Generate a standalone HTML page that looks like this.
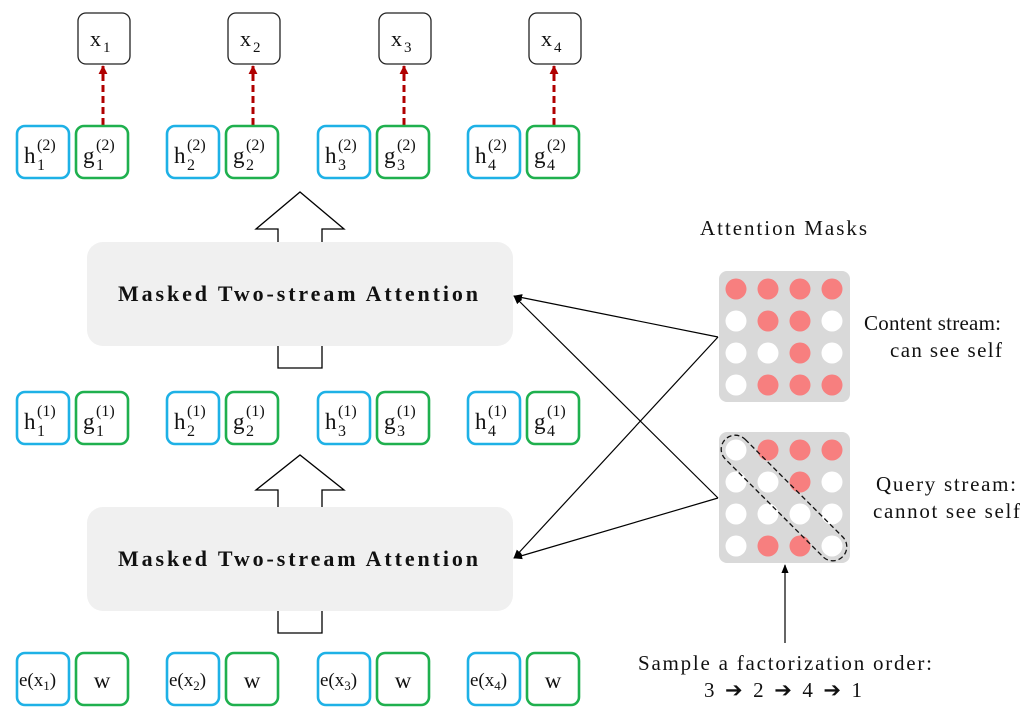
<!DOCTYPE html>
<html><head><meta charset="utf-8"><style>
html,body{margin:0;padding:0;background:#fff;}
svg{display:block;}
.ser{font-family:"Liberation Serif",serif;fill:#111;}
</style></head><body>
<svg width="1036" height="715" viewBox="0 0 1036 715" xmlns="http://www.w3.org/2000/svg">
<defs>
<marker id="ah" viewBox="0 0 10 10" refX="9" refY="5" markerWidth="9" markerHeight="9" orient="auto-start-reverse" markerUnits="userSpaceOnUse"><path d="M0,1 L10,5 L0,9 z" fill="#000"/></marker>
<marker id="rh" viewBox="0 0 10 10" refX="9" refY="5" markerWidth="9" markerHeight="10" orient="auto" markerUnits="userSpaceOnUse"><path d="M0,0 L10,5 L0,10 z" fill="#b00000"/></marker>
</defs>

<rect x="87" y="242" width="426" height="104" rx="16" fill="#f0f0f0"/>
<rect x="87" y="507" width="426" height="104" rx="16" fill="#f0f0f0"/>
<text x="118" y="301" class="ser" font-size="22" font-weight="bold" textLength="360" lengthAdjust="spacing">Masked Two-stream Attention</text>
<text x="118" y="566" class="ser" font-size="22" font-weight="bold" textLength="360" lengthAdjust="spacing">Masked Two-stream Attention</text>

<path d="M278,242 L278,229 L256,229 L300,192 L344,229 L322,229 L322,242" fill="none" stroke="#000" stroke-width="1.3"/>
<path d="M278,346 L278,368 L322,368 L322,346" fill="none" stroke="#000" stroke-width="1.3"/>
<path d="M278,507 L278,490 L256,490 L300,455 L344,490 L322,490 L322,507" fill="none" stroke="#000" stroke-width="1.3"/>
<path d="M278,611 L278,633 L322,633 L322,611" fill="none" stroke="#000" stroke-width="1.3"/>

<g stroke="#222" stroke-width="1.3" fill="#fff">
<rect x="78" y="13" width="52" height="51" rx="8"/>
<rect x="228" y="13" width="52" height="51" rx="8"/>
<rect x="379" y="13" width="52" height="51" rx="8"/>
<rect x="529" y="13" width="52" height="51" rx="8"/>
</g>
<g class="ser" font-size="22">
<text x="90" y="46">x</text><text x="103" y="52" font-size="15">1</text>
<text x="240" y="46">x</text><text x="253" y="52" font-size="15">2</text>
<text x="391" y="46">x</text><text x="404" y="52" font-size="15">3</text>
<text x="541" y="46">x</text><text x="554" y="52" font-size="15">4</text>
</g>
<g stroke="#b00000" stroke-width="3" stroke-dasharray="7,4" marker-end="url(#rh)">
<line x1="103" y1="125" x2="103" y2="66"/>
<line x1="253" y1="125" x2="253" y2="66"/>
<line x1="404" y1="125" x2="404" y2="66"/>
<line x1="554" y1="125" x2="554" y2="66"/>
</g>

<g fill="none" stroke-width="2.6">
<g stroke="#1eb1e6">
<rect x="17" y="126" width="52" height="52" rx="8"/><rect x="167" y="126" width="52" height="52" rx="8"/><rect x="318" y="126" width="52" height="52" rx="8"/><rect x="468" y="126" width="52" height="52" rx="8"/>
<rect x="17" y="392" width="52" height="52" rx="8"/><rect x="167" y="392" width="52" height="52" rx="8"/><rect x="318" y="392" width="52" height="52" rx="8"/><rect x="468" y="392" width="52" height="52" rx="8"/>
<rect x="17" y="653" width="52" height="52" rx="8"/><rect x="167" y="653" width="52" height="52" rx="8"/><rect x="318" y="653" width="52" height="52" rx="8"/><rect x="468" y="653" width="52" height="52" rx="8"/>
</g>
<g stroke="#1fb04e">
<rect x="76" y="126" width="52" height="52" rx="8"/><rect x="226" y="126" width="52" height="52" rx="8"/><rect x="377" y="126" width="52" height="52" rx="8"/><rect x="527" y="126" width="52" height="52" rx="8"/>
<rect x="76" y="392" width="52" height="52" rx="8"/><rect x="226" y="392" width="52" height="52" rx="8"/><rect x="377" y="392" width="52" height="52" rx="8"/><rect x="527" y="392" width="52" height="52" rx="8"/>
<rect x="76" y="653" width="52" height="52" rx="8"/><rect x="226" y="653" width="52" height="52" rx="8"/><rect x="377" y="653" width="52" height="52" rx="8"/><rect x="527" y="653" width="52" height="52" rx="8"/>
</g>
</g>

<g class="ser" font-size="23">
<text x="24" y="163">h</text><text x="37" y="170" font-size="16">1</text><text x="37" y="150" font-size="16">(2)</text>
<text x="83" y="163">g</text><text x="96" y="170" font-size="16">1</text><text x="96" y="150" font-size="16">(2)</text>
<text x="174" y="163">h</text><text x="187" y="170" font-size="16">2</text><text x="187" y="150" font-size="16">(2)</text>
<text x="233" y="163">g</text><text x="246" y="170" font-size="16">2</text><text x="246" y="150" font-size="16">(2)</text>
<text x="325" y="163">h</text><text x="338" y="170" font-size="16">3</text><text x="338" y="150" font-size="16">(2)</text>
<text x="384" y="163">g</text><text x="397" y="170" font-size="16">3</text><text x="397" y="150" font-size="16">(2)</text>
<text x="475" y="163">h</text><text x="488" y="170" font-size="16">4</text><text x="488" y="150" font-size="16">(2)</text>
<text x="534" y="163">g</text><text x="547" y="170" font-size="16">4</text><text x="547" y="150" font-size="16">(2)</text>
<text x="24" y="429">h</text><text x="37" y="436" font-size="16">1</text><text x="37" y="416" font-size="16">(1)</text>
<text x="83" y="429">g</text><text x="96" y="436" font-size="16">1</text><text x="96" y="416" font-size="16">(1)</text>
<text x="174" y="429">h</text><text x="187" y="436" font-size="16">2</text><text x="187" y="416" font-size="16">(1)</text>
<text x="233" y="429">g</text><text x="246" y="436" font-size="16">2</text><text x="246" y="416" font-size="16">(1)</text>
<text x="325" y="429">h</text><text x="338" y="436" font-size="16">3</text><text x="338" y="416" font-size="16">(1)</text>
<text x="384" y="429">g</text><text x="397" y="436" font-size="16">3</text><text x="397" y="416" font-size="16">(1)</text>
<text x="475" y="429">h</text><text x="488" y="436" font-size="16">4</text><text x="488" y="416" font-size="16">(1)</text>
<text x="534" y="429">g</text><text x="547" y="436" font-size="16">4</text><text x="547" y="416" font-size="16">(1)</text>
</g>
<g class="ser" font-size="19">
<text x="19" y="686">e(x<tspan font-size="13" dy="4">1</tspan><tspan dy="-4">)</tspan></text>
<text x="169" y="686">e(x<tspan font-size="13" dy="4">2</tspan><tspan dy="-4">)</tspan></text>
<text x="320" y="686">e(x<tspan font-size="13" dy="4">3</tspan><tspan dy="-4">)</tspan></text>
<text x="470" y="686">e(x<tspan font-size="13" dy="4">4</tspan><tspan dy="-4">)</tspan></text>
</g>
<g class="ser" font-size="23" text-anchor="middle">
<text x="102" y="688">w</text><text x="252" y="688">w</text><text x="403" y="688">w</text><text x="553" y="688">w</text>
</g>

<rect x="719" y="271" width="131" height="131" rx="8" fill="#d9d9d9"/>
<rect x="719" y="432" width="131" height="131" rx="8" fill="#d9d9d9"/>
<g>
<circle cx="736" cy="289" r="10.5" fill="#f77f7f"/><circle cx="768" cy="289" r="10.5" fill="#f77f7f"/><circle cx="800" cy="289" r="10.5" fill="#f77f7f"/><circle cx="832" cy="289" r="10.5" fill="#f77f7f"/>
<circle cx="736" cy="321" r="10.5" fill="#fff"/><circle cx="768" cy="321" r="10.5" fill="#f77f7f"/><circle cx="800" cy="321" r="10.5" fill="#f77f7f"/><circle cx="832" cy="321" r="10.5" fill="#fff"/>
<circle cx="736" cy="353" r="10.5" fill="#fff"/><circle cx="768" cy="353" r="10.5" fill="#fff"/><circle cx="800" cy="353" r="10.5" fill="#f77f7f"/><circle cx="832" cy="353" r="10.5" fill="#fff"/>
<circle cx="736" cy="385" r="10.5" fill="#fff"/><circle cx="768" cy="385" r="10.5" fill="#f77f7f"/><circle cx="800" cy="385" r="10.5" fill="#f77f7f"/><circle cx="832" cy="385" r="10.5" fill="#f77f7f"/>
<circle cx="736" cy="450" r="10.5" fill="#fff"/><circle cx="768" cy="450" r="10.5" fill="#f77f7f"/><circle cx="800" cy="450" r="10.5" fill="#f77f7f"/><circle cx="832" cy="450" r="10.5" fill="#f77f7f"/>
<circle cx="736" cy="482" r="10.5" fill="#fff"/><circle cx="768" cy="482" r="10.5" fill="#fff"/><circle cx="800" cy="482" r="10.5" fill="#f77f7f"/><circle cx="832" cy="482" r="10.5" fill="#fff"/>
<circle cx="736" cy="514" r="10.5" fill="#fff"/><circle cx="768" cy="514" r="10.5" fill="#fff"/><circle cx="800" cy="514" r="10.5" fill="#fff"/><circle cx="832" cy="514" r="10.5" fill="#fff"/>
<circle cx="736" cy="546" r="10.5" fill="#fff"/><circle cx="768" cy="546" r="10.5" fill="#f77f7f"/><circle cx="800" cy="546" r="10.5" fill="#f77f7f"/><circle cx="832" cy="546" r="10.5" fill="#fff"/>
</g>
<rect x="701" y="484" width="166" height="28" rx="14" fill="none" stroke="#111" stroke-width="1.3" stroke-dasharray="5,3" transform="rotate(45 784 498)"/>

<g stroke="#000" stroke-width="1.2" fill="none" marker-end="url(#ah)">
<line x1="718" y1="337" x2="514" y2="296"/>
<line x1="718" y1="337" x2="514" y2="558"/>
<line x1="718" y1="498" x2="514" y2="296"/>
<line x1="718" y1="498" x2="514" y2="558"/>
<line x1="785" y1="643" x2="785" y2="565"/>
</g>

<g class="ser" font-size="21">
<text x="700" y="235" textLength="167" lengthAdjust="spacing">Attention Masks</text>
<text x="864" y="330" textLength="137" lengthAdjust="spacing">Content stream:</text>
<text x="890" y="357" textLength="112" lengthAdjust="spacing">can see self</text>
<text x="876" y="491" textLength="140" lengthAdjust="spacing">Query stream:</text>
<text x="873" y="518" textLength="147" lengthAdjust="spacing">cannot see self</text>
<text x="638" y="670" textLength="294" lengthAdjust="spacing">Sample a factorization order:</text>
<text x="704" y="697" textLength="158" lengthAdjust="spacing">3 ➔ 2 ➔ 4 ➔ 1</text>
</g>
</svg>
</body></html>
